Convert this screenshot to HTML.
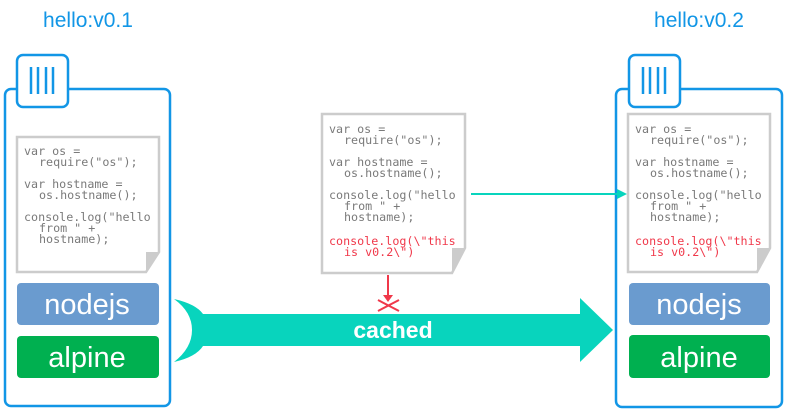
<!DOCTYPE html>
<html><head><style>
html,body{margin:0;padding:0;background:#fff;width:785px;height:410px;overflow:hidden}
.c{font-family:"DejaVu Sans Mono","Liberation Mono",monospace;font-size:11.7px;fill:#7a7a7a}
.r{fill:#f0384a}
.t{font-family:"Liberation Sans",sans-serif;font-size:21px;fill:#1296e6}
.b{font-family:"Liberation Sans",sans-serif;font-size:29px;fill:#fff}
</style></head><body>
<svg width="785" height="410" viewBox="0 0 785 410">
<text class="t" x="88" y="27" text-anchor="middle">hello:v0.1</text>
<text class="t" x="699" y="27" text-anchor="middle">hello:v0.2</text>

<!-- left container -->
<rect x="5" y="89" width="165" height="317" rx="6" fill="#fff" stroke="#1296e6" stroke-width="2.5"/>
<rect x="17" y="55" width="51" height="52" rx="6" fill="#fff" stroke="#1296e6" stroke-width="2.5"/>
<g stroke="#1296e6" stroke-width="2.5"><line x1="31" y1="67" x2="31" y2="94"/><line x1="38" y1="67" x2="38" y2="94"/><line x1="46" y1="67" x2="46" y2="94"/><line x1="53" y1="67" x2="53" y2="94"/></g>
<path d="M17,137 H159 V252 L146,272 H17 Z" fill="#fff" stroke="#ccc" stroke-width="2.5"/>
<path d="M159,252 L146,272 V252 Z" fill="#ccc"/>
<g class="c"><text x="24" y="155">var os =</text><text x="39" y="166">require("os");</text>
<text x="24" y="188">var hostname =</text><text x="39" y="199">os.hostname();</text>
<text x="24" y="221">console.log("hello</text><text x="39" y="232">from " +</text><text x="39" y="243">hostname);</text></g>
<rect x="17" y="283" width="142" height="42" rx="4" fill="#6a9bcf"/>
<text class="b" x="87" y="314" text-anchor="middle">nodejs</text>
<rect x="17" y="336" width="142" height="42" rx="4" fill="#00b050"/>
<text class="b" x="87" y="367" text-anchor="middle">alpine</text>

<!-- right container -->
<rect x="616" y="89" width="166" height="318" rx="6" fill="#fff" stroke="#1296e6" stroke-width="2.5"/>
<rect x="629" y="55" width="51" height="52" rx="6" fill="#fff" stroke="#1296e6" stroke-width="2.5"/>
<g stroke="#1296e6" stroke-width="2.5"><line x1="643" y1="67" x2="643" y2="94"/><line x1="650" y1="67" x2="650" y2="94"/><line x1="658" y1="67" x2="658" y2="94"/><line x1="665" y1="67" x2="665" y2="94"/></g>
<path d="M628,114 H770 V248 L757,272 H628 Z" fill="#fff" stroke="#ccc" stroke-width="2.5"/>
<path d="M770,248 L757,272 V248 Z" fill="#ccc"/>
<g class="c"><text x="635" y="133">var os =</text><text x="650" y="144">require("os");</text>
<text x="635" y="166">var hostname =</text><text x="650" y="177">os.hostname();</text>
<text x="635" y="199">console.log("hello</text><text x="650" y="210">from " +</text><text x="650" y="221">hostname);</text>
<text class="r" x="635" y="245">console.log(\"this</text><text class="r" x="650" y="256">is v0.2\")</text></g>
<rect x="629" y="283" width="141" height="42" rx="4" fill="#6a9bcf"/>
<text class="b" x="699" y="314" text-anchor="middle">nodejs</text>
<rect x="629" y="335" width="141" height="43" rx="4" fill="#00b050"/>
<text class="b" x="699" y="367" text-anchor="middle">alpine</text>

<!-- middle doc -->
<path d="M322,114 H465 V248 L452,273 H322 Z" fill="#fff" stroke="#ccc" stroke-width="2.5"/>
<path d="M465,248 L452,273 V248 Z" fill="#ccc"/>
<g class="c"><text x="329" y="133">var os =</text><text x="344" y="144">require("os");</text>
<text x="329" y="166">var hostname =</text><text x="344" y="177">os.hostname();</text>
<text x="329" y="199">console.log("hello</text><text x="344" y="210">from " +</text><text x="344" y="221">hostname);</text>
<text class="r" x="329" y="245">console.log(\"this</text><text class="r" x="344" y="256">is v0.2\")</text></g>

<!-- teal connector -->
<line x1="471" y1="194" x2="618" y2="194" stroke="#08d4bd" stroke-width="2"/>
<path d="M617,189 L627,194 L617,199 Z" fill="#08d4bd"/>

<!-- red arrow + x -->
<line x1="388" y1="275" x2="388" y2="296" stroke="#f0384a" stroke-width="2"/>
<path d="M383,295 L388,302 L393,295 Z" fill="#f0384a"/>
<g stroke="#f0384a" stroke-width="2"><line x1="378" y1="300" x2="399" y2="311"/><line x1="378" y1="311" x2="399" y2="300"/></g>

<!-- big arrow -->
<path d="M174,299 Q196,304 203,314 H580 V298 L613,330 L580,362 V346 H203 Q196,357 174,362 Q192,348 192,330 Q192,312 174,299 Z" fill="#08d4bd"/>
<text x="393" y="338" text-anchor="middle" font-family="Liberation Sans,sans-serif" font-weight="bold" font-size="23" fill="#fff">cached</text>
</svg>
</body></html>
